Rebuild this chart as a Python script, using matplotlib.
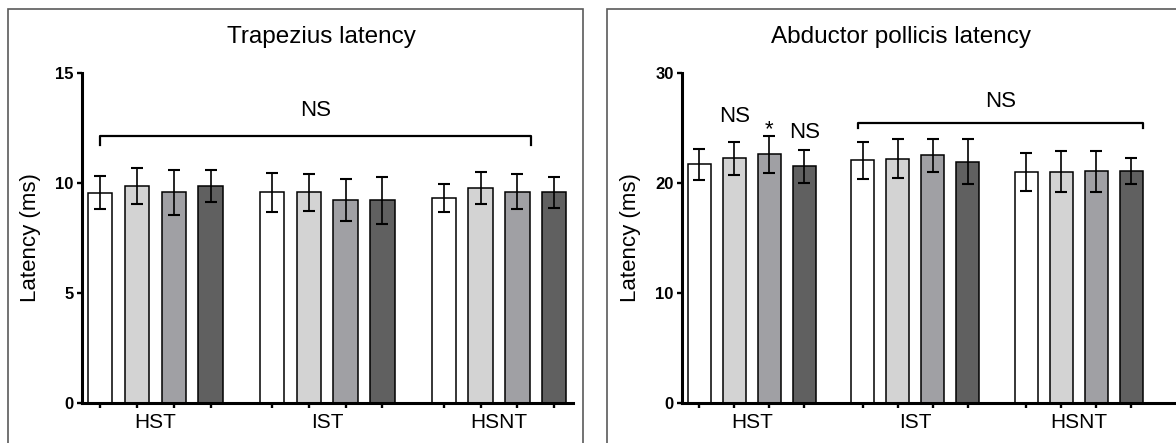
import numpy as np
import matplotlib
matplotlib.use("Agg")
import matplotlib.pyplot as plt
from matplotlib.patches import Rectangle
from matplotlib.transforms import blended_transform_factory

plt.rcParams['font.family'] = ['Liberation Sans', 'DejaVu Sans']

groups = ["HST", "IST", "HSNT"]
bar_colors = ["#ffffff", "#d3d3d3", "#a0a0a4", "#606060"]

# Trapezius latency (ms), 4 bars per group
trap_mean = [9.55, 9.87, 9.57, 9.87,
             9.57, 9.57, 9.23, 9.20,
             9.31, 9.78, 9.60, 9.57]
trap_err = [0.75, 0.83, 1.03, 0.72,
            0.88, 0.85, 0.97, 1.05,
            0.62, 0.73, 0.80, 0.71]

# Abductor pollicis latency (ms)
abd_mean = [21.7, 22.25, 22.6, 21.5,
            22.04, 22.22, 22.5, 21.92,
            21.03, 21.03, 21.06, 21.09]
abd_err = [1.4, 1.5, 1.7, 1.48,
           1.7, 1.74, 1.5, 2.05,
           1.73, 1.83, 1.87, 1.16]

W, H = 1176, 443
fig = plt.figure(figsize=(W / 100, H / 100), dpi=100)

offsets = [0, 4.67, 9.34]
pos = np.array([o + i for o in offsets for i in range(4)])
colors = bar_colors * 3


def px_axes(x0, x1, y0, y1):
    return fig.add_axes([x0 / W, (H - y1) / H, (x1 - x0) / W, (y1 - y0) / H])


def draw_panel(ax, means, errs, ymax, step, xmax):
    ax.bar(pos, means, width=0.66, color=colors, edgecolor="black", linewidth=1.1, zorder=2)
    ax.errorbar(pos, means, yerr=errs, fmt="none", ecolor="black", elinewidth=1.2,
                capsize=4.3, capthick=1.5, zorder=3)
    ax.set_xlim(-0.5, xmax)
    ax.set_ylim(0, ymax)
    ax.set_yticks(np.arange(0, ymax + 1, step))
    ax.set_xticks(pos)
    ax.set_xticklabels([])
    for s in ["top", "right"]:
        ax.spines[s].set_visible(False)
    for s in ["left", "bottom"]:
        ax.spines[s].set_linewidth(2.2)
    ax.tick_params(axis="both", direction="out", length=3.8, width=1.7, pad=2)
    ax.tick_params(axis="y", labelsize=12)
    for lab in ax.get_yticklabels():
        lab.set_fontweight("bold")
    ax.set_ylabel("Latency (ms)", fontsize=16, labelpad=10)
    tr = blended_transform_factory(ax.transData, ax.transAxes)
    for g, o in zip(groups, offsets):
        ax.annotate(g, xy=(o + 1.5, 0), xycoords=tr, xytext=(0, -20),
                    textcoords="offset pixels", ha="center", va="center", fontsize=15)


# frames around each panel
for x0, x1 in [(7.5, 582.5), (606.5, 1190)]:
    fig.patches.append(Rectangle((x0 / W, -0.05), (x1 - x0) / W, (H - 9) / H + 0.05,
                                 transform=fig.transFigure, fill=False,
                                 edgecolor="#5a5a5a", linewidth=1.2))

ax1 = px_axes(81.7, 573, 73, 402.7)
draw_panel(ax1, trap_mean, trap_err, 15, 5, 12.85)
ax1.plot([0, 0, 11.7, 11.7], [11.72, 12.12, 12.12, 11.72], color="black", lw=1.6)
ax1.text(5.85, 12.83, "NS", ha="center", va="bottom", fontsize=16)
fig.text(321 / W, 1 - 37 / H, "Trapezius latency", ha="center", va="center", fontsize=17.5)

ax2 = px_axes(681.7, 681.7 + 14.4 * 35, 73, 402.7)
draw_panel(ax2, abd_mean, abd_err, 30, 10, 13.9)
ax2.plot([4.54, 4.54, 12.69, 12.69], [24.95, 25.42, 25.42, 24.95], color="black", lw=1.6)
ax2.text(8.6, 26.45, "NS", ha="center", va="bottom", fontsize=16)
ax2.text(pos[1], 25.1, "NS", ha="center", va="bottom", fontsize=16)
ax2.text(pos[2], 24.3, "*", ha="center", va="baseline", fontsize=16)
ax2.text(pos[3], 23.66, "NS", ha="center", va="bottom", fontsize=16)
fig.text(901 / W, 1 - 37 / H, "Abductor pollicis latency", ha="center", va="center", fontsize=17.5)

fig.savefig("out.png", dpi=100)
